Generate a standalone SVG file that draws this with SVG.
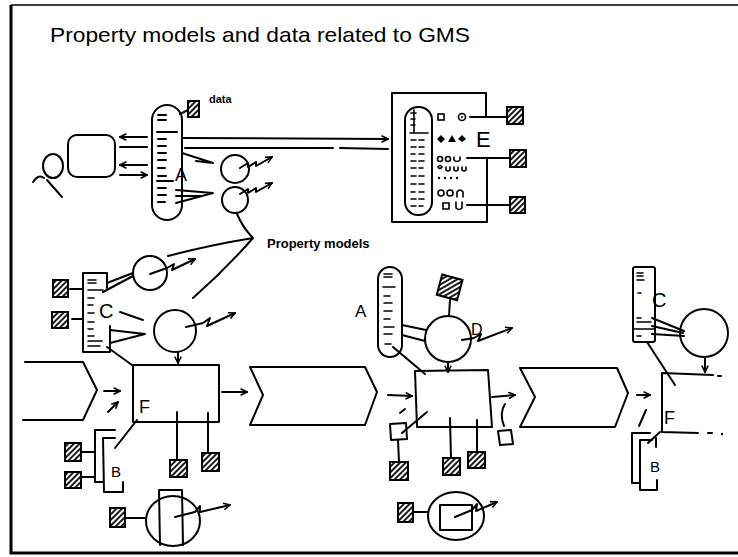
<svg xmlns="http://www.w3.org/2000/svg" width="738" height="557" viewBox="0 0 738 557">
  <defs>
    <style>
      .s{fill:none;stroke:#000;stroke-width:2;stroke-linecap:round;stroke-linejoin:round}
      .thin{fill:none;stroke:#000;stroke-width:1.6;stroke-linecap:round}
      .hs{fill:url(#hatch);stroke:#000;stroke-width:2}
      .fl{fill:#000;stroke:none}
      .t{font-family:"Liberation Sans",Arial,sans-serif;fill:#000}
      .a{marker-end:url(#ah)}
    </style>
    <pattern id="hatch" patternUnits="userSpaceOnUse" width="4" height="4" patternTransform="rotate(-45)">
      <rect width="4" height="4" fill="#fff"/>
      <line x1="0" y1="2" x2="4" y2="2" stroke="#000" stroke-width="1.8"/>
    </pattern>
    <marker id="ah" viewBox="0 0 10 10" refX="9" refY="5" markerUnits="userSpaceOnUse" markerWidth="8" markerHeight="8" orient="auto">
      <path d="M1,1 L9,5 L1,9" fill="none" stroke="#000" stroke-width="2"/>
    </marker>
  </defs>

  <rect width="738" height="557" fill="#fff"/>

  <!-- frame -->
  <g id="frame">
    <path d="M11,5 L738,5" stroke="#000" stroke-width="1.5" fill="none"/>
    <path d="M11,5 L11,553 L738,553" stroke="#000" stroke-width="3" fill="none"/>
  </g>

  <text class="t" x="50" y="42" font-size="21" textLength="420" lengthAdjust="spacingAndGlyphs">Property models and data related to GMS</text>

  <!-- ===== top: user, application A, database E ===== -->
  <g id="user">
    <ellipse class="s" cx="53" cy="166" rx="10" ry="12"/>
    <path class="s" d="M33,182 C36,177 40,175 44,178 M47,180 L62,197"/>
  </g>
  <g id="monitor">
    <rect class="s" x="68" y="135" width="47" height="42" rx="9"/>
  </g>
  <g id="app-a-top">
    <rect class="s" x="152" y="105" width="30" height="115" rx="15"/>
    <path class="s" d="M158,115h8 M158,120h8 M157,132h20 M158,139h8 M158,146h8 M158,153h8 M158,160h8 M158,168h7 M158,176h8 M157,181h16 M158,188h8 M158,195h8 M158,202h7"/>
    <text class="t" x="175" y="181" font-size="18">A</text>
  </g>
  <g id="data-top">
    <rect class="hs" x="188" y="101" width="11" height="16"/>
    <text class="t" x="209" y="103" font-size="11" font-weight="bold">data</text>
  </g>
  <g id="pm-top-1">
    <circle class="s" cx="235" cy="169" r="14"/>
    <path class="s a" d="M240,168 L248,163 L248,167 L256,162 L256,166 L272,157"/>
  </g>
  <g id="pm-top-2">
    <circle class="s" cx="235" cy="200" r="13"/>
    <path class="s a" d="M240,194 L248,189 L248,193 L256,188 L256,192 L272,183"/>
  </g>
  <g id="pm-label">
    <text class="t" x="267" y="248" font-size="13" font-weight="bold">Property models</text>
  </g>
  <g id="db-e">
    <path class="s" d="M486,117 L486,93 L392,93 L392,222 L487,222 L487,158"/>
    <rect class="s" x="405" y="107" width="27" height="108" rx="13"/>
    <path class="thin" d="M411,113h5 M414,110v22 M411,119h4 M411,125h4 M410,133h18 M411,140h5 M419,140h5 M411,147h5 M419,147h5 M411,154h4 M419,154h5 M411,161h5 M419,161h5 M411,168h5 M419,168h4 M411,176h5 M419,176h5 M411,184h5 M419,184h5 M411,192h4 M419,192h5 M411,199h5 M419,199h5 M411,206h5 M419,206h4"/>
    <text class="t" x="476" y="147" font-size="22">E</text>
    <!-- record symbols -->
    <rect class="thin" x="438" y="114" width="6" height="6"/>
    <circle class="thin" cx="462" cy="117" r="3.5"/>
    <circle class="fl" cx="462" cy="117" r="1"/>
    <path class="fl" d="M437,139 L441,135 L445,139 L441,143 Z M448,142 L452,135 L456,142 Z M458,139 L462,135 L466,139 L462,142 Z"/>
    <circle class="thin" cx="440" cy="159" r="2.5"/>
    <circle class="thin" cx="448" cy="159" r="2.5"/>
    <path class="thin" d="M454,157 v3 q3,3 6,0 v-3 M438,167 q2,-3 4,0 q-2,3 -4,0 M446,167 v3 q2,2 4,0 v-3 M454,167 v3 q2,2 4,0 v-3 M462,167 v3 q2,2 4,0 v-3"/>
    <circle class="fl" cx="439" cy="178" r="1.2"/>
    <circle class="fl" cx="445" cy="178" r="1.2"/>
    <circle class="fl" cx="451" cy="178" r="1.2"/>
    <circle class="fl" cx="457" cy="178" r="1.2"/>
    <circle class="thin" cx="441" cy="193" r="3"/>
    <circle class="thin" cx="450" cy="193" r="3"/>
    <path class="thin" d="M457,197 v-5 q3,-4 6,0 v5 M443,203 h6 v6 h-6 Z M456,202 v6 q3,3 6,0 v-6"/>
  </g>
  <g id="data-e1"><rect class="hs" x="507" y="107" width="16" height="17"/></g>
  <g id="data-e2"><rect class="hs" x="510" y="150" width="16" height="17"/></g>
  <g id="data-e3"><rect class="hs" x="510" y="197" width="15" height="16"/></g>

  <!-- ===== left process ===== -->
  <g id="proc-1">
    <path class="s" d="M25,362 L83,362 L97,390 L83,420 L23,420"/>
  </g>
  <g id="model-c-left">
    <path class="s" d="M107,288 L107,273 L83,273 L83,352 L110,352 L110,326"/>
    <path class="thin" d="M88,280h8 M88,283h8 M88,290h15 M88,298h6 M88,305h5 M88,313h6 M88,322h6 M88,329h5 M88,336h6 M88,341h14 M88,346h12"/>
    <text class="t" x="99" y="318" font-size="20">C</text>
  </g>
  <g id="data-c1"><rect class="hs" x="53" y="280" width="15" height="17"/></g>
  <g id="data-c2"><rect class="hs" x="52" y="312" width="16" height="16"/></g>
  <g id="pm-c1">
    <circle class="s" cx="150" cy="273" r="17"/>
    <path class="s a" d="M150,274 L167,268 L174,264 L172,270 L195,259"/>
  </g>
  <g id="pm-c2">
    <circle class="s" cx="175" cy="331" r="21"/>
    <path class="s a" d="M186,327 L203,323 L210,318 L207,326 L235,313"/>
  </g>
  <g id="task-f-left">
    <rect class="s" x="133" y="365" width="86" height="57"/>
    <text class="t" x="139" y="413" font-size="18">F</text>
  </g>
  <g id="role-b-left">
    <path class="s" d="M115,430 L95,430 L95,482 L103,482 M115,438 L103,438 L104,492 L123,492 L123,482"/>
    <text class="t" x="111" y="477" font-size="15">B</text>
  </g>
  <g id="data-b1"><rect class="hs" x="65" y="443" width="16" height="18"/></g>
  <g id="data-b2"><rect class="hs" x="65" y="472" width="16" height="16"/></g>
  <g id="data-f1"><rect class="hs" x="170" y="460" width="17" height="17"/></g>
  <g id="data-f2"><rect class="hs" x="202" y="453" width="17" height="18"/></g>
  <g id="pm-bottom-left">
    <ellipse class="s" cx="173" cy="521" rx="27" ry="25"/>
    <path class="s" d="M160,545 L159,490 L182,490 L183,545"/>
    <path class="s a" d="M175,517 L195,512 L200,506 L200,512 L230,505"/>
  </g>
  <g id="data-bl"><rect class="hs" x="110" y="508" width="15" height="19"/></g>

  <!-- ===== middle process ===== -->
  <g id="proc-2">
    <path class="s" d="M250,367 L365,367 L377,392 L365,425 L250,425 L263,395 Z"/>
  </g>
  <g id="app-a-mid">
    <rect class="s" x="378" y="267" width="24" height="90" rx="12"/>
    <path class="thin" d="M384,274h8 M384,277h8 M383,287h12 M384,296h6 M384,303h8 M384,311h8 M384,319h6 M384,327h10 M384,334h8 M385,344h6"/>
    <text class="t" x="355" y="317" font-size="17">A</text>
  </g>
  <g id="data-d"><rect class="hs" x="439" y="277" width="21" height="21" transform="rotate(15 450 288)"/></g>
  <g id="pm-d">
    <circle class="s" cx="448" cy="339" r="23"/>
    <text class="t" x="471" y="335" font-size="16">D</text>
    <path class="s a" d="M462,340 L474,338 L481,334 L478,341 L512,328"/>
  </g>
  <g id="task-f-mid">
    <path class="s" d="M415,371 L488,370 L492,427 L417,427 Z"/>
  </g>
  <g id="doc-in"><path class="s" d="M390,424 L406,423 L407,439 L391,440 Z"/></g>
  <g id="doc-out"><path class="s" d="M498,431 L511,430 L513,444 L500,445 Z"/></g>
  <g id="data-m1"><rect class="hs" x="390" y="462" width="18" height="18"/></g>
  <g id="data-m2"><rect class="hs" x="443" y="458" width="17" height="17"/></g>
  <g id="data-m3"><rect class="hs" x="468" y="452" width="17" height="16"/></g>
  <g id="pm-bottom-mid">
    <ellipse class="s" cx="456" cy="516" rx="28" ry="24"/>
    <rect class="s" x="440" y="505" width="32" height="25"/>
    <path class="s a" d="M455,517 L472,510 L477,504 L476,511 L497,502"/>
  </g>
  <g id="data-bm"><rect class="hs" x="398" y="503" width="15" height="19"/></g>

  <!-- ===== right process ===== -->
  <g id="proc-3">
    <path class="s" d="M520,368 L617,368 L628,393 L615,427 L520,427 L535,397 Z"/>
  </g>
  <g id="model-c-right">
    <rect class="s" x="633" y="267" width="22" height="75" rx="2"/>
    <path class="thin" d="M637,273h6 M637,276h6 M637,280h7 M638,293h3 M637,318h4 M637,322h14 M634,329h20 M637,336h4"/>
    <text class="t" x="652" y="307" font-size="20">C</text>
  </g>
  <g id="pm-c3">
    <circle class="s" cx="704" cy="333" r="24"/>
  </g>
  <g id="task-f-right">
    <path class="s" d="M713,375 L662,373 L662,432 L698,433"/>
    <path class="s" d="M718,376 L721,376 M708,433 L712,433"/>
    <circle class="fl" cx="722" cy="434" r="1.2"/>
    <text class="t" x="664" y="424" font-size="18">F</text>
  </g>
  <g id="role-b-right">
    <path class="s" d="M650,433 L632,433 L632,483 L640,483 M652,440 L640,440 L640,490 L657,490 L657,480"/>
    <path class="s" d="M656,438 L656,447"/>
    <text class="t" x="650" y="472" font-size="15">B</text>
  </g>

  <!-- ===== connectors ===== -->
  <g id="connectors">
    <!-- user side -->
    <path class="s a" d="M147,137 L120,137"/>
    <path class="s" d="M120,147 L147,147"/>
    <path class="s a" d="M147,165 L120,165"/>
    <path class="s a" d="M120,175 L147,175"/>
    <!-- A to E -->
    <path class="s a" d="M183,138 L388,139"/>
    <path class="s" d="M185,148 L333,148 M340,148 L388,149"/>
    <path class="s" d="M180,114 L188,110"/>
    <!-- A to property models -->
    <path class="s" d="M182,153 L213,163 M196,161 L213,163"/>
    <path class="s" d="M176,190 L213,193 L176,203 M176,196 L200,196"/>
    <!-- label leaders -->
    <path class="s" d="M237,214 Q243,228 253,238 Q210,245 168,256 M253,238 Q225,270 193,298"/>
    <!-- E rows to data -->
    <path class="s" d="M470,117 L507,117 M467,158 L510,158 M467,205 L510,205"/>
    <!-- left C -->
    <path class="s" d="M70,289 L83,289 M72,319 L83,319"/>
    <path class="s" d="M107,283 L133,273 M103,292 L133,276"/>
    <path class="s" d="M120,312 L143,320 M110,330 L145,334 L110,343"/>
    <path class="s a" d="M178,352 L178,363"/>
    <path class="s" d="M107,347 L132,365"/>
    <!-- left F -->
    <path class="s a" d="M104,391 L120,391"/>
    <path class="s a" d="M108,412 L118,402"/>
    <path class="s a" d="M222,392 L247,392"/>
    <path class="s" d="M177,412 L177,460 M208,413 L208,453"/>
    <path class="s" d="M137,420 L115,448"/>
    <path class="s" d="M81,452 L95,452 M81,477 L95,477"/>
    <path class="s" d="M125,518 L146,518"/>
    <!-- middle -->
    <path class="s" d="M450,300 L449,316"/>
    <path class="s" d="M402,325 L426,330 M402,335 L425,341"/>
    <path class="s" d="M393,347 L425,374"/>
    <path class="s a" d="M448,362 L448,372"/>
    <path class="s a" d="M388,395 L412,396"/>
    <path class="s" d="M402,433 L427,412 M400,413 L405,409"/>
    <path class="s" d="M398,440 L399,462"/>
    <path class="s" d="M450,418 L451,458 M477,420 L477,452"/>
    <path class="s" d="M505,404 Q499,413 504,426"/>
    <path class="s a" d="M492,397 L515,395"/>
    <path class="s" d="M413,512 L428,512"/>
    <!-- right -->
    <path class="s a" d="M637,395 L650,395"/>
    <path class="s" d="M639,426 L646,410"/>
    <path class="s" d="M652,318 L684,331 M652,326 L683,333 M652,334 L684,336"/>
    <path class="s a" d="M705,357 L705,372"/>
    <path class="s" d="M647,342 L675,385"/>
    <path class="s" d="M660,432 L648,443"/>
  </g>
</svg>
